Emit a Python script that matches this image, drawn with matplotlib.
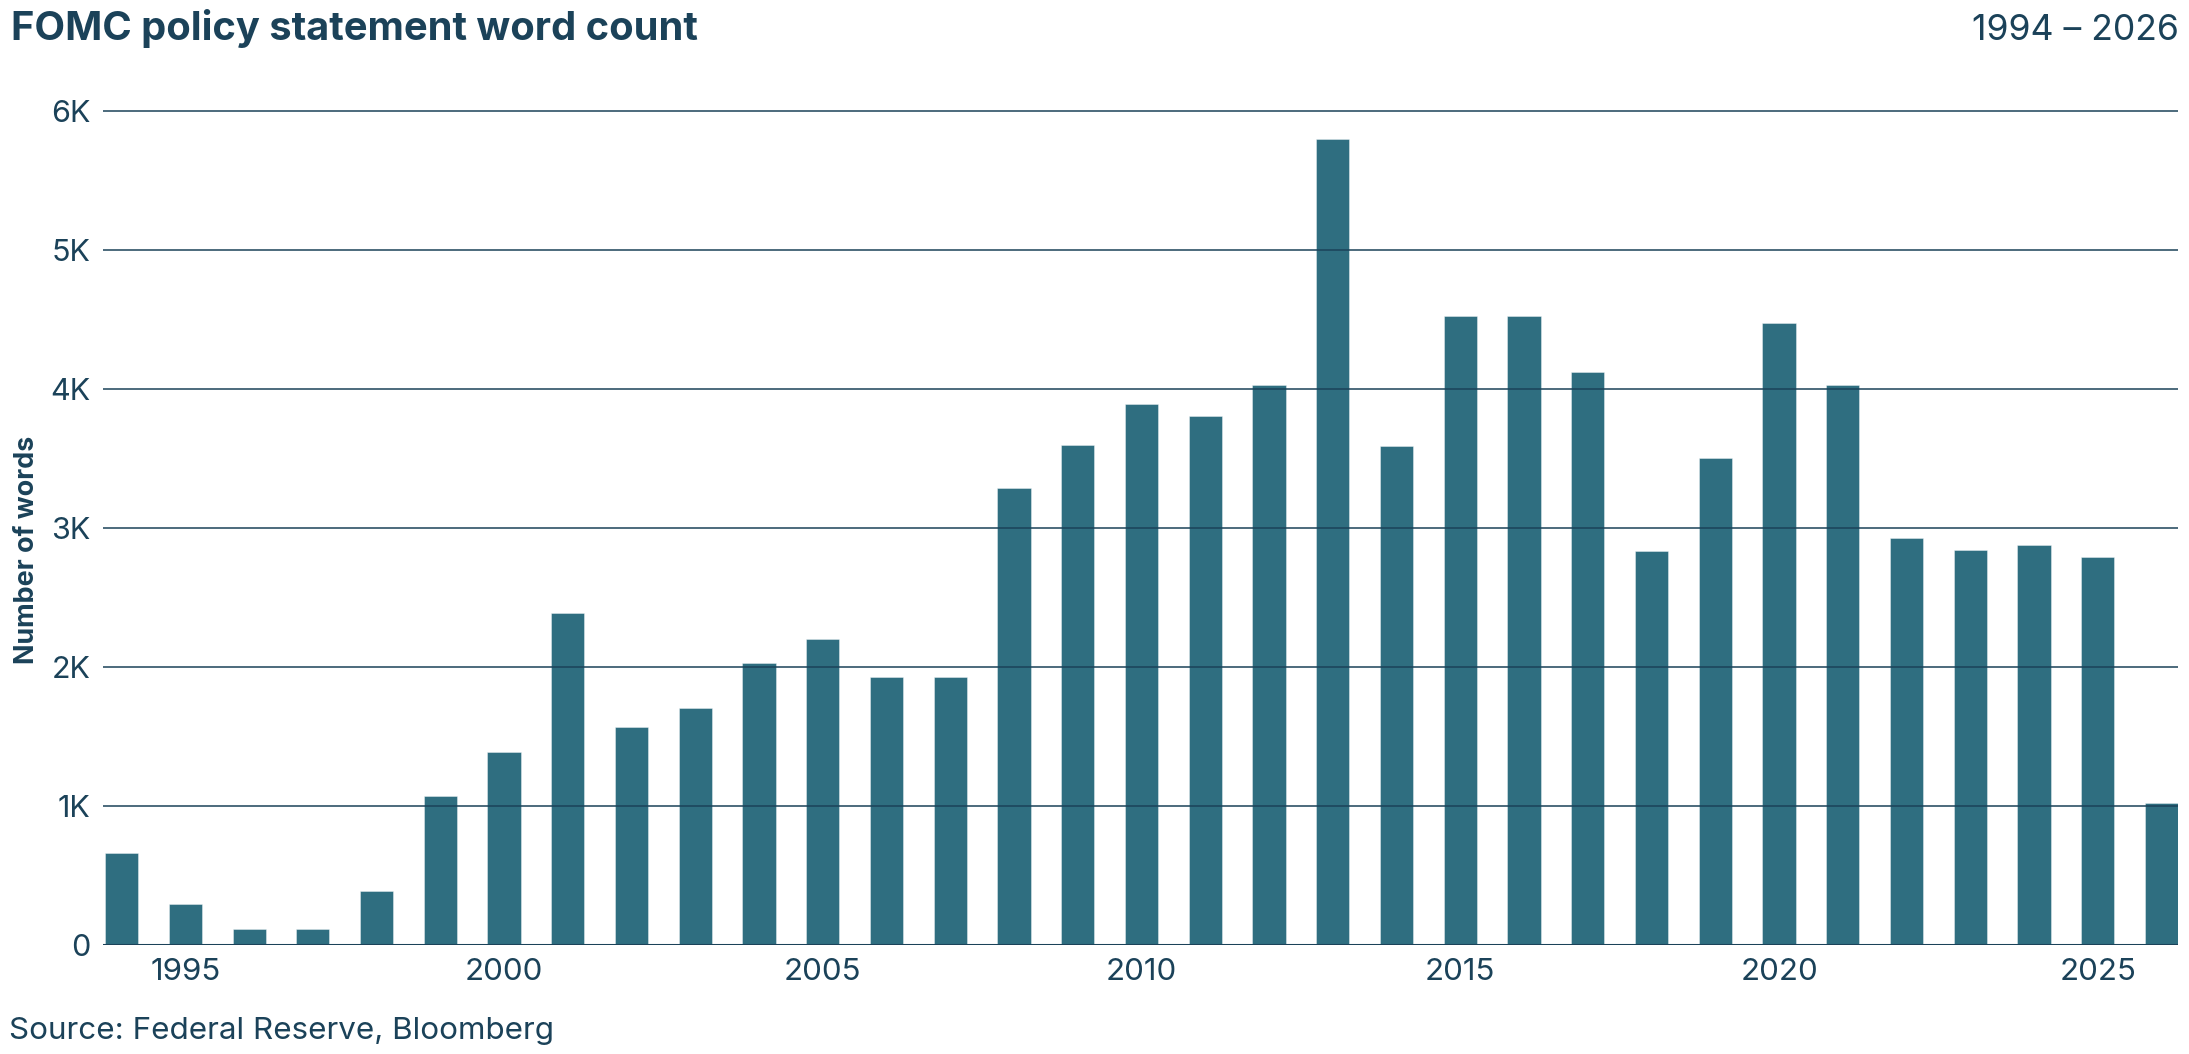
import matplotlib
matplotlib.use("Agg")
import matplotlib.pyplot as plt
from matplotlib.ticker import FuncFormatter

plt.rcParams['font.family'] = ['Inter', 'DejaVu Sans']

# word counts per year
years = list(range(1994, 2027))
words = [660, 295, 112, 112, 385, 1070, 1390, 2385, 1565, 1705, 2025, 2200,
         1930, 1930, 3285, 3595, 3895, 3805, 4025, 5800, 3590, 4525, 4525,
         4120, 2835, 3500, 4475, 4025, 2925, 2840, 2880, 2790, 1020]
xticks = [1995, 2000, 2005, 2010, 2015, 2020, 2025]
yticks = [0, 1000, 2000, 3000, 4000, 5000, 6000]

bar_col = '#2f6e80'
ink = '#1b4259'
w = 0.52

fig = plt.figure(figsize=(21.89, 10.54), dpi=100)
ax = fig.add_axes([0.0471, 0.1034, 0.9479, 0.8046])

ax.bar(years, words, width=w, color=bar_col, edgecolor=(1, 1, 1, 0.45),
       linewidth=0.6, zorder=2)

ax.set_xlim(1994 - w / 2 - 0.03, 2026 + w / 2)
ax.set_ylim(0, 6100)
ax.set_yticks(yticks)
ax.set_xticks(xticks)
ax.yaxis.set_major_formatter(FuncFormatter(lambda v, p: '0' if v == 0 else f'{int(v/1000)}K'))

for y in yticks[1:]:
    ax.axhline(y, color=ink, lw=1.1, zorder=3)
ax.axhline(0, color=ink, lw=2.2, zorder=4)

for s in ax.spines.values():
    s.set_visible(False)
ax.tick_params(axis='both', length=0, colors=ink)
ax.tick_params(axis='y', pad=9, labelsize=22)
ax.tick_params(axis='x', pad=9, labelsize=22.5)

ax.set_ylabel('Number of words', fontsize=19.4, fontweight='bold', color=ink)
ax.yaxis.set_label_coords(-0.0305, 0.466)

fig.text(0.005, 0.962, 'FOMC policy statement word count', fontsize=28.7,
         fontweight='bold', color=ink, ha='left', va='baseline')
fig.text(0.9955, 0.962, '1994 – 2026', fontsize=25.6, color=ink,
         ha='right', va='baseline')
fig.text(0.004, 0.0145, 'Source: Federal Reserve, Bloomberg', fontsize=22.6,
         color=ink, ha='left', va='baseline')

fig.savefig('out.png', dpi=100)
